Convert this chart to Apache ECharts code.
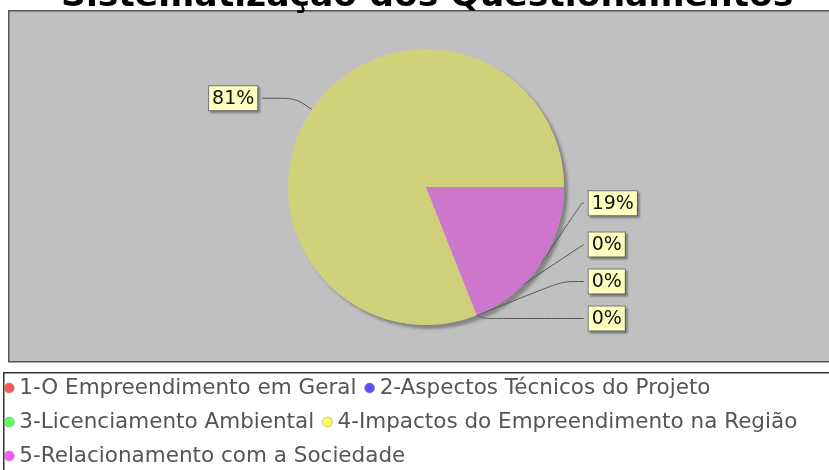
<!DOCTYPE html>
<html>
<head>
<meta charset="utf-8">
<script src="https://cdn.jsdelivr.net/npm/echarts@6/dist/echarts.min.js"></script>
<style>
  html, body { margin: 0; padding: 0; background: #fff; }
  #myChart { width: 829px; height: 470px; }
</style>
</head>
<body>
<div id="myChart"></div>
<script>
  // dados do grafico
  var categorias = [
    '1-O Empreendimento em Geral',
    '2-Aspectos Técnicos do Projeto',
    '3-Licenciamento Ambiental',
    '4-Impactos do Empreendimento na Região',
    '5-Relacionamento com a Sociedade'
  ];
  var valores = [0, 0, 0, 81, 19];
  var coresFatia = ['#D66A6A', '#6A6AD6', '#6AD66A', '#D0D07A', '#CC77CC'];
  var coresLegenda = ['#FF5555', '#5555FF', '#55FF55', '#FFFF55', '#FF55FF'];

  var myChart = echarts.init(document.getElementById('myChart'));

  var dados = [];
  for (var i = 0; i < categorias.length; i++) {
    var item = { name: categorias[i], value: valores[i], itemStyle: { color: coresFatia[i] } };
    if (valores[i] > 50) {
      item.labelLine = { length2: 33 };
    }
    dados.push(item);
  }
  var legenda = [];
  for (var j = 0; j < categorias.length; j++) {
    legenda.push({ name: categorias[j], itemStyle: { color: coresLegenda[j], borderColor: '#888', borderWidth: 0.5 } });
  }

  myChart.setOption({
    backgroundColor: '#ffffff',
    animation: false,
    title: {
      text: 'Sistematização dos Questionamentos',
      left: 56,
      top: -25,
      textStyle: { fontFamily: 'DejaVu Sans', fontWeight: 'bold', fontSize: 34.6, color: '#000' }
    },
    graphic: [
      {
        type: 'rect', left: 8, top: 10, z: -10,
        shape: { width: 840, height: 351 },
        style: { fill: '#C0C0C0', stroke: '#555', lineWidth: 1.5 }
      },
      {
        type: 'rect', left: 3, top: 372, z: -10,
        shape: { width: 840, height: 110 },
        style: { fill: '#fff', stroke: '#333', lineWidth: 1.5 }
      }
    ],
    legend: {
      data: legenda,
      left: 0,
      top: 373,
      width: 825,
      padding: [2, 4],
      icon: 'circle',
      itemWidth: 10,
      itemHeight: 10,
      itemGap: 8,
      textStyle: { fontFamily: 'DejaVu Sans', fontSize: 21.5, color: '#555', lineHeight: 26 }
    },
    series: [
      {
        // sombra do disco
        type: 'pie',
        silent: true,
        top: 0,
        height: 337,
        center: [426, 187],
        radius: 138,
        z: 1,
        label: { show: false },
        labelLine: { show: false },
        data: [{ name: 'sombra', value: 1, itemStyle: { color: '#C0C0C0', shadowColor: 'rgba(60,60,60,0.45)', shadowBlur: 3, shadowOffsetX: 4, shadowOffsetY: 4 } }]
      },
      {
        name: 'Questionamentos',
        type: 'pie',
        top: 0,
        height: 337,
        center: [426, 187],
        radius: 138,
        z: 2,
        startAngle: -68.4,
        clockwise: true,
        avoidLabelOverlap: true,
        label: {
          formatter: '{caixa|{d}%}',
          alignTo: 'labelLine',
          minMargin: 11,
          rich: {
            caixa: {
              fontFamily: 'DejaVu Sans',
              fontSize: 19,
              color: '#111',
              backgroundColor: '#FFFFC0',
              borderColor: '#777',
              borderWidth: 1,
              padding: [3, 3, 2, 3],
              shadowColor: 'rgba(0,0,0,0.25)',
              shadowOffsetX: 2,
              shadowOffsetY: 2,
              shadowBlur: 2
            }
          }
        },
        labelLine: {
          show: true,
          length: 20,
          length2: 27,
          smooth: 0.3,
          lineStyle: { color: '#555', width: 1 }
        },
        data: dados
      }
    ]
  });
</script>
</body>
</html>
